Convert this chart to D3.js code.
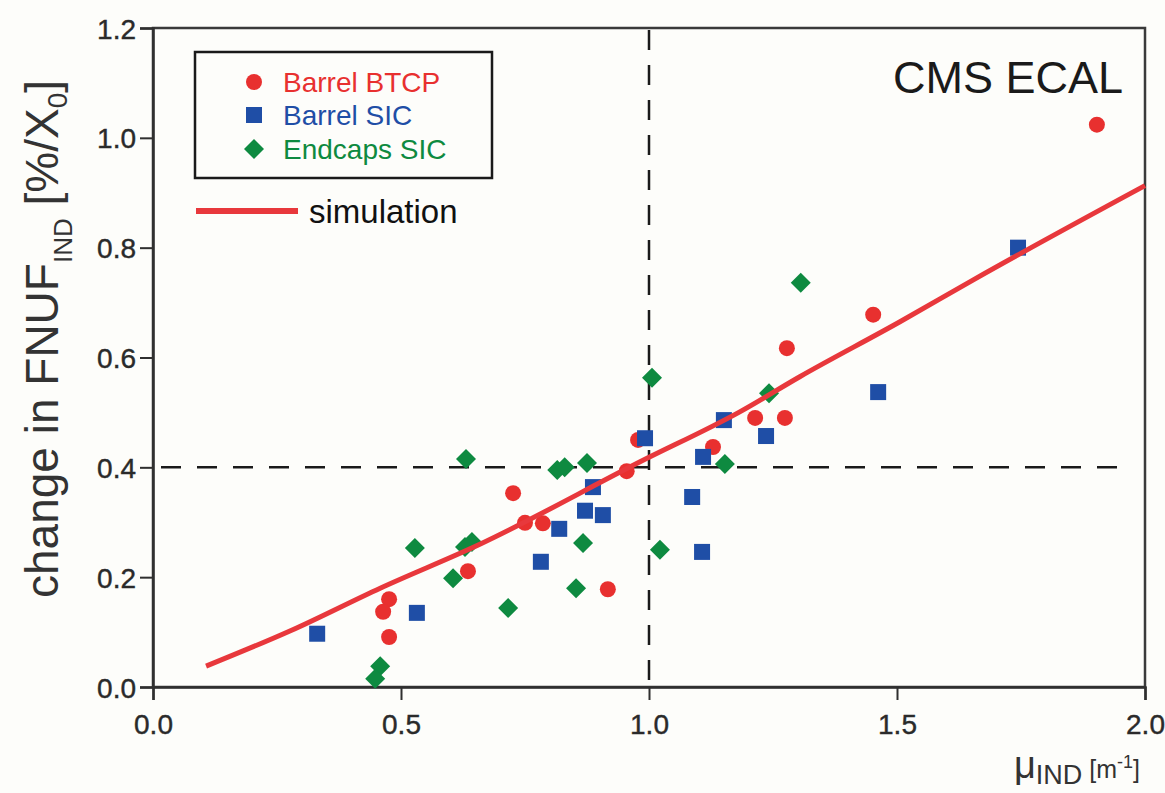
<!DOCTYPE html>
<html><head><meta charset="utf-8">
<script src="https://cdn.jsdelivr.net/npm/d3@7"></script>
<style>
html,body{margin:0;padding:0;background:#fdfdfa;}
svg{display:block;font-family:"Liberation Sans",Arial,sans-serif;}
</style></head>
<body>
<svg id="chart" width="1165" height="793"></svg>
<script>
// ---- data ----
const btcpX = [1.903,1.452,1.278,1.214,1.274,1.129,0.978,0.955,0.726,0.750,0.786,0.917,0.635,0.476,0.464,0.476];
const btcpY = [1.024,0.678,0.617,0.490,0.490,0.437,0.450,0.393,0.353,0.299,0.298,0.178,0.211,0.160,0.137,0.091];
const sicBarrelX = [1.744,1.462,1.236,1.151,1.109,1.087,1.107,0.992,0.887,0.871,0.907,0.819,0.782,0.532,0.331];
const sicBarrelY = [0.800,0.537,0.457,0.486,0.419,0.346,0.246,0.453,0.364,0.321,0.313,0.288,0.228,0.135,0.097];
const endcapX = [1.306,1.242,1.153,1.006,1.022,0.875,0.815,0.830,0.867,0.853,0.716,0.631,0.643,0.629,0.528,0.605,0.458,0.448];
const endcapY = [0.736,0.535,0.406,0.563,0.250,0.408,0.395,0.400,0.262,0.180,0.144,0.415,0.264,0.255,0.253,0.198,0.038,0.015];
const simX = [0.107,0.276,0.458,0.659,0.982,1.183,1.304,1.506,1.653,2.0];
const simY = [0.038,0.102,0.180,0.260,0.410,0.501,0.565,0.665,0.741,0.913];
const xTicks = [0.0,0.5,1.0,1.5,2.0];
const yTicks = [0.0,0.2,0.4,0.6,0.8,1.0,1.2];
const refX = 1.0, refY = 0.4;
const legendLabels = ["Barrel BTCP","Barrel SIC","Endcaps SIC"];

// ---- styling ----
const RED = "#e8302f", BLUE = "#1f4ea6", GREEN = "#0e8a40", LINE = "#e8383c", AX = "#2f2f2f";
const svg = d3.select("#chart");
const x = d3.scaleLinear().domain([0,2]).range([153,1145]);
const y = d3.scaleLinear().domain([0,1.2]).range([687,28]);

// frame
svg.append("rect").attr("x",153).attr("y",28).attr("width",1145-153).attr("height",687-28)
  .attr("fill","none").attr("stroke","#3a3a3a").attr("stroke-width",2.5);

// axes
const ax = svg.append("g").attr("transform","translate(0,687)")
  .call(d3.axisBottom(x).tickValues(xTicks).tickFormat(d3.format(".1f")).tickSize(13).tickPadding(9));
const ay = svg.append("g").attr("transform","translate(153,0)")
  .call(d3.axisLeft(y).tickValues(yTicks).tickFormat(d3.format(".1f")).tickSize(13).tickPadding(4));
[ax,ay].forEach(g=>{
  g.selectAll("path.domain").attr("stroke",AX).attr("stroke-width",2.5);
  g.selectAll(".tick line").attr("stroke",AX).attr("stroke-width",2);
  g.selectAll(".tick text").attr("fill","#2a2a2a").style("font-size","28px")
    .style("font-family","'Liberation Sans',Arial,sans-serif").attr("stroke","#2a2a2a").attr("stroke-width",0.4);
});
ax.selectAll(".tick text").attr("dy","0.9em");
ay.selectAll(".tick text").attr("dy","0.36em");

// dashed reference lines
svg.append("line").attr("x1",x(0)+8).attr("x2",x(1.97)).attr("y1",y(refY)).attr("y2",y(refY))
  .attr("stroke","#1a1a1a").attr("stroke-width",2.5).attr("stroke-dasharray","20,16");
svg.append("line").attr("x1",x(refX)).attr("x2",x(refX)).attr("y1",y(1.2)+2).attr("y2",y(0))
  .attr("stroke","#1a1a1a").attr("stroke-width",2.5).attr("stroke-dasharray","20,15");

// points
const btcp = btcpX.map((v,i)=>({x:v,y:btcpY[i]}));
const sicB = sicBarrelX.map((v,i)=>({x:v,y:sicBarrelY[i]}));
const endc = endcapX.map((v,i)=>({x:v,y:endcapY[i]}));
svg.append("g").selectAll("circle").data(btcp).join("circle")
  .attr("cx",d=>x(d.x)).attr("cy",d=>y(d.y)).attr("r",8).attr("fill",RED);
svg.append("g").selectAll("rect").data(sicB).join("rect")
  .attr("x",d=>x(d.x)-8).attr("y",d=>y(d.y)-8).attr("width",16).attr("height",16).attr("fill",BLUE);
const diamond = d3.symbol().type(d3.symbolSquare).size(200);
svg.append("g").selectAll("path").data(endc).join("path")
  .attr("d",diamond).attr("transform",d=>`translate(${x(d.x)},${y(d.y)}) rotate(45)`).attr("fill",GREEN);

// simulation line
const sim = simX.map((v,i)=>({x:v,y:simY[i]}));
svg.append("path").datum(sim)
  .attr("d",d3.line().x(d=>x(d.x)).y(d=>y(d.y)).curve(d3.curveMonotoneX))
  .attr("fill","none").attr("stroke",LINE).attr("stroke-width",5);

// legend
svg.append("rect").attr("x",195).attr("y",52).attr("width",297).attr("height",126)
  .attr("fill","#fdfdfa").attr("stroke","#1a1a1a").attr("stroke-width",2.5);
const legColors = [RED,BLUE,GREEN];
const legY = [82,115,149];
svg.append("circle").attr("cx",254).attr("cy",legY[0]).attr("r",8).attr("fill",RED);
svg.append("rect").attr("x",246).attr("y",legY[1]-8).attr("width",16).attr("height",16).attr("fill",BLUE);
svg.append("path").attr("d",diamond).attr("transform",`translate(254,${legY[2]}) rotate(45)`).attr("fill",GREEN);
legendLabels.forEach((t,i)=>{
  svg.append("text").attr("x",283).attr("y",legY[i]).attr("dy","0.36em")
    .attr("fill",legColors[i]).style("font-size","28px").text(t);
});
svg.append("line").attr("x1",196).attr("x2",298).attr("y1",211).attr("y2",211)
  .attr("stroke",LINE).attr("stroke-width",6);
svg.append("text").attr("x",309).attr("y",211).attr("dy","0.36em").attr("fill","#111")
  .style("font-size","33px").text("simulation");

// CMS ECAL
svg.append("text").attr("x",1123).attr("y",93).attr("text-anchor","end").attr("fill","#1a1a1a")
  .style("font-size","45px").text("CMS ECAL");

// y title
const yt = svg.append("text").attr("transform","translate(58,339) rotate(-90)")
  .attr("text-anchor","middle").attr("fill","#333").style("font-size","46px");
yt.append("tspan").text("change in FNUF");
yt.append("tspan").attr("dy",14).style("font-size","26px").text("IND");
yt.append("tspan").attr("dy",-14).text(" [%/X");
yt.append("tspan").attr("dy",9).style("font-size","28px").text("0");
yt.append("tspan").attr("dy",-9).text("]");

// x title
const xt = svg.append("text").attr("x",1140).attr("y",778).attr("text-anchor","end").attr("fill","#333");
xt.append("tspan").style("font-size","38px").text("μ");
xt.append("tspan").attr("dy",6).style("font-size","27px").text("IND");
xt.append("tspan").attr("dy",-6).style("font-size","25px").text(" [m");
xt.append("tspan").attr("dy",-10).style("font-size","18px").text("-1");
xt.append("tspan").attr("dy",10).style("font-size","25px").text("]");
</script>
</body></html>
